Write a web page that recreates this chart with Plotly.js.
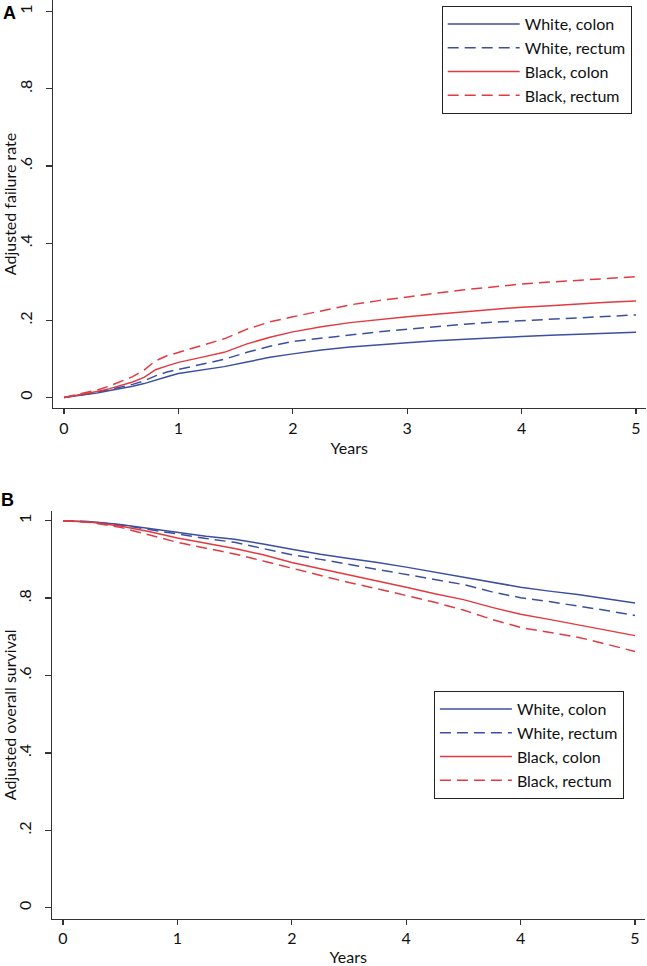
<!DOCTYPE html>
<html>
<head>
<meta charset="utf-8">
<script src="https://cdn.plot.ly/plotly-3.0.1.min.js"></script>
<style>html,body{margin:0;padding:0;background:#fff;}#chart{width:647px;height:966px;}</style>
</head>
<body>
<div id="chart"></div>
<script>
// ---------- data ----------
var seriesNames = ["White, colon", "White, rectum", "Black, colon", "Black, rectum"];

// Panel A: adjusted failure rate
var yearsA = [0, 0.1, 0.2, 0.3, 0.4, 0.5, 0.6, 0.7, 0.8, 0.9, 1.0, 1.2, 1.4, 1.6, 1.8, 2.0, 2.25, 2.5, 2.75, 3.0, 3.25, 3.5, 3.75, 4.0, 4.25, 4.5, 4.75, 5.0];
var failWhiteColon  = [0, .004, .008, .012, .018, .023, .029, .036, .046, .054, .062, .071, .080, .092, .104, .113, .123, .131, .137, .142, .147, .151, .154, .158, .161, .164, .167, .169];
var failWhiteRectum = [0, .004, .009, .014, .020, .027, .034, .043, .056, .066, .073, .085, .099, .117, .133, .145, .154, .162, .170, .177, .184, .190, .195, .199, .203, .207, .211, .214];
var failBlackColon  = [0, .005, .010, .016, .023, .031, .040, .052, .072, .082, .091, .104, .117, .139, .156, .170, .183, .194, .202, .209, .216, .222, .228, .234, .238, .243, .247, .250];
var failBlackRectum = [0, .006, .013, .020, .030, .041, .054, .071, .095, .108, .117, .133, .152, .177, .196, .209, .225, .240, .251, .261, .270, .279, .287, .294, .299, .304, .309, .313];

// Panel B: adjusted overall survival
var yearsB = [0, 0.25, 0.5, 0.75, 1.0, 1.25, 1.5, 1.75, 2.0, 2.25, 2.5, 2.75, 3.0, 3.25, 3.5, 3.75, 4.0, 4.25, 4.5, 4.75, 5.0];
var survWhiteColon  = [1, .997, .990, .980, .969, .960, .952, .940, .926, .913, .902, .892, .880, .867, .854, .841, .828, .818, .809, .798, .787];
var survWhiteRectum = [1, .997, .989, .977, .965, .954, .944, .929, .912, .900, .887, .874, .861, .849, .835, .816, .801, .791, .780, .768, .755];
var survBlackColon  = [1, .996, .986, .972, .955, .941, .928, .912, .892, .876, .860, .845, .828, .811, .796, .776, .758, .745, .731, .717, .703];
var survBlackRectum = [1, .995, .983, .964, .944, .929, .914, .896, .877, .858, .840, .824, .806, .789, .769, .745, .724, .712, .699, .681, .662];

var xTickVals = [0, 1, 2, 3, 4, 5];
var xTickTextA = ["0", "1", "2", "3", "4", "5"];
var xTickTextB = ["0", "1", "2", "4", "4", "5"];
var yTickVals = [0, 0.2, 0.4, 0.6, 0.8, 1];
var yTickText = ["0", ".2", ".4", ".6", ".8", "1"];

// ---------- styles ----------
var BLUE = "#3c4fa0", RED = "#e23a40";
var colors = [BLUE, BLUE, RED, RED];
var dashes = ["solid", "11px,6px", "solid", "11px,6px"];
var FONT = "Lato, 'Liberation Sans', Arial, sans-serif";
var W = 647, H = 966;

var failData = [failWhiteColon, failWhiteRectum, failBlackColon, failBlackRectum];
var survData = [survWhiteColon, survWhiteRectum, survBlackColon, survBlackRectum];

var traces = [];
for (var i = 0; i < 4; i++) {
  traces.push({
    x: yearsA, y: failData[i], name: seriesNames[i], type: "scatter", mode: "lines",
    xaxis: "x", yaxis: "y", legend: "legend",
    line: {color: colors[i], width: 1.5, dash: dashes[i]}
  });
}
for (var j = 0; j < 4; j++) {
  traces.push({
    x: yearsB, y: survData[j], name: seriesNames[j], type: "scatter", mode: "lines",
    xaxis: "x2", yaxis: "y2", legend: "legend2",
    line: {color: colors[j], width: 1.5, dash: dashes[j]}
  });
}

function xAxis(domL, domR, anchor, ttext) {
  return {
    domain: [domL / W, domR / W], anchor: anchor, range: [-0.096, 5.083],
    tickmode: "array", tickvals: xTickVals, ticktext: ttext,
    ticks: "outside", ticklen: 5, tickwidth: 1.2, tickcolor: "#333",
    showline: true, linecolor: "#333", linewidth: 1.3, mirror: false,
    showgrid: false, zeroline: false,
    tickfont: {family: FONT, size: 16, color: "#111"},
    title: {text: "Years", font: {family: FONT, size: 16, color: "#111"}, standoff: 7},
    fixedrange: true
  };
}
function yAxis(topPx, botPx, range, anchor, title) {
  return {
    domain: [1 - botPx / H, 1 - topPx / H], anchor: anchor, range: range,
    tickmode: "array", tickvals: yTickVals, ticktext: yTickText, tickangle: -90,
    ticks: "outside", ticklen: 6, tickwidth: 1.2, tickcolor: "#333",
    showline: true, linecolor: "#333", linewidth: 1.3,
    showgrid: false, zeroline: false, ticklabelstandoff: 7,
    tickfont: {family: FONT, size: 16, color: "#111"},
    title: {text: title, font: {family: FONT, size: 16, color: "#111"}, standoff: 4},
    fixedrange: true
  };
}

var legendCommon = {
  bgcolor: "#fff", bordercolor: "#222", borderwidth: 1,
  font: {family: FONT, size: 16, color: "#111"},
  xanchor: "left", yanchor: "top", itemwidth: 72, tracegroupgap: 0
};

var layout = {
  width: W, height: H,
  margin: {l: 0, r: 0, t: 0, b: 0, autoexpand: false},
  paper_bgcolor: "#fff", plot_bgcolor: "#fff",
  showlegend: true,
  xaxis: xAxis(53, 645.5, "y", xTickTextA),
  yaxis: yAxis(0, 408, [-0.0272, 1.0298], "x", "Adjusted failure rate"),
  xaxis2: xAxis(52, 644.5, "y2", xTickTextB),
  yaxis2: yAxis(511, 918.7, [-0.0284, 1.025], "x2", "Adjusted overall survival"),
  legend: Object.assign({x: 441.7 / W, y: 1 - 6 / H}, legendCommon),
  legend2: Object.assign({x: 433.9 / W, y: 1 - 691 / H}, legendCommon),
  annotations: [
    {text: "<b>A</b>", xref: "paper", yref: "paper", x: 9 / W, y: 1 - 13 / H, xanchor: "center", yanchor: "middle",
     showarrow: false, font: {family: "'Liberation Sans', Arial, sans-serif", size: 18, color: "#000"}},
    {text: "<b>B</b>", xref: "paper", yref: "paper", x: 7 / W, y: 1 - 500 / H, xanchor: "center", yanchor: "middle",
     showarrow: false, font: {family: "'Liberation Sans', Arial, sans-serif", size: 18, color: "#000"}}
  ]
};

Plotly.newPlot("chart", traces, layout, {displayModeBar: false, staticPlot: true});
</script>
</body>
</html>
